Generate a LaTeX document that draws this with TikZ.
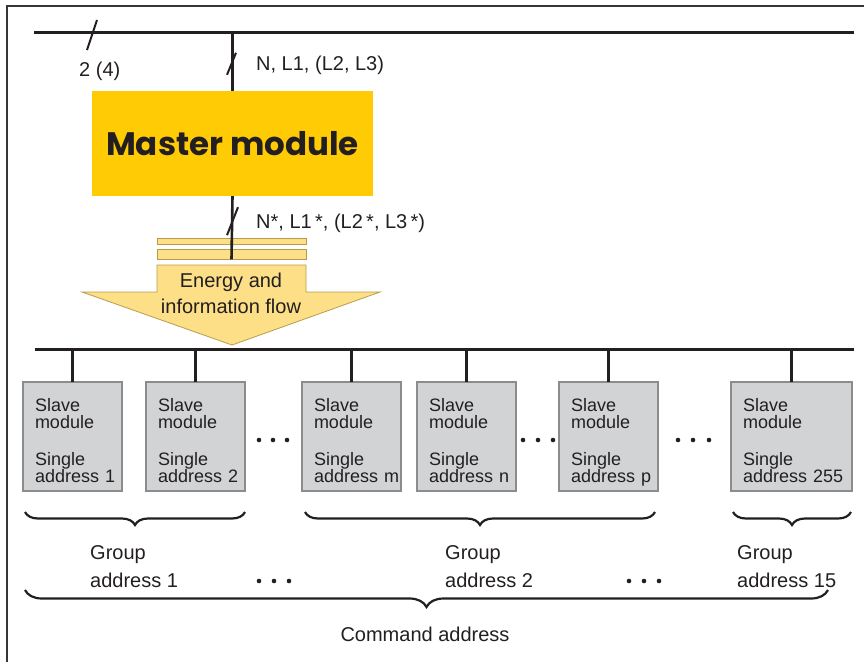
\documentclass[tikz,border=0pt]{standalone}
\usepackage{fontspec}
\setmainfont{Liberation Sans}
\newfontfamily\msHeavy{Poppins}
\usepackage{tikz}
\usetikzlibrary{
    positioning,
    calc,
    decorations.pathreplacing
}
\definecolor{msYellow}{HTML}{FFCB05}
\definecolor{msLightYellow}{HTML}{FCDF86}
\definecolor{msFlowLine}{HTML}{B89C4C}
\definecolor{msGray}{HTML}{D1D3D4}
\definecolor{msGrayLine}{HTML}{8C8C8C}
\definecolor{msInk}{HTML}{231F20}
\tikzset{
    msBus/.style={line width=3pt,draw=msInk},
    msDrop/.style={line width=2.6pt,draw=msInk},
    msSlash/.style={line width=2pt,draw=msInk},
    msFrame/.style={line width=1.5pt,draw=msInk!90},
    msMaster/.style={
        fill=msYellow,
        minimum width=281pt,
        minimum height=105pt,
        inner sep=0pt,
        text=msInk,
        font=\msHeavy\bfseries\fontsize{32.5}{36}\selectfont
    },
    msBar/.style={
        draw=msFlowLine,
        fill=msLightYellow,
        line width=0.8pt,
        minimum width=149pt,
        inner sep=0pt
    },
    msFlow/.style={draw=msFlowLine,fill=msLightYellow,line width=0.8pt},
    msSlave/.style={
        draw=msGrayLine,
        fill=msGray,
        line width=2pt,
        minimum height=109pt,
        text width=75pt,
        inner xsep=12pt,
        inner ysep=0pt,
        outer sep=0pt,
        align=left,
        text=msInk,
        font=\fontsize{18}{17}\selectfont,
        execute at begin node={\rule{0pt}{27pt}},
        execute at end node={\rule[-6pt]{0pt}{6pt}}
    },
    msLabel/.style={inner sep=0pt,text=msInk,font=\fontsize{20}{28}\selectfont},
    msBrace/.style={decorate,decoration={brace,amplitude=#1},line width=2.2pt,draw=msInk}
}

\begin{document}
\begin{tikzpicture}[x=1pt,y=-1pt]
    \useasboundingbox (0,0) rectangle (864,662);
    \draw[msFrame] (864,6) -- (7,6) -- (7,662);

    % master side
    \coordinate (busTopL) at (34,32);
    \coordinate (busTopR) at (854,32);
    \draw[msBus] (busTopL) -- (busTopR);
    \draw[msSlash] (87,50) -- (97,20);
    \node[msLabel,anchor=base west] (wires) at (79,76) {2 (4)};

    \node[msMaster] (master) at (232.5,143.5) {Master module};
    \draw[msDrop] (master.north) -- (master.north |- busTopL);
    \draw[msSlash] ($(master.north)+(-5.5,-16)$) -- ($(master.north)+(3.5,-38)$);
    \node[msLabel,anchor=base west] (inLines) at (256,70) {N, L1, (L2, L3)};

    % energy and information flow
    \node[msBar,minimum height=6pt] (bar1) at (231.5,241.5) {};
    \node[msBar,minimum height=10pt] (bar2) at (231.5,254) {};
    \draw[msDrop] (master.south) -- (bar2.south);
    \draw[msSlash] ($(master.south)+(-5.5,39)$) -- ($(master.south)+(5.5,11)$);
    \node[msLabel,anchor=base west] (outLines) at (256,228)
        {N*, L1\,*, (L2\,*, L3\,*)};

    \draw[msFlow] (157,265) -- (306,265) -- (306,292) -- (380,292)
        -- (232,345) -- (82,292) -- (157,292) -- cycle;
    \node[msLabel,align=center,font=\fontsize{20}{26}\selectfont] (flow) at (231,293)
        {Energy and\\information flow};

    % slave modules
    \coordinate (busLowL) at (35,349);
    \coordinate (busLowR) at (854,349);
    \draw[msBus] (busLowL) -- (busLowR);

    \node[msSlave,anchor=north west] (s1) at (23,382)
        {Slave\\module\\[20pt]Single\\address~1};
    \node[msSlave,right=24pt of s1] (s2)
        {Slave\\module\\[20pt]Single\\address~2};
    \node[msSlave,right=57pt of s2] (s3)
        {Slave\\module\\[20pt]Single\\address~m};
    \node[msSlave,right=16pt of s3] (s4)
        {Slave\\module\\[20pt]Single\\address~n};
    \node[msSlave,right=43pt of s4] (s5)
        {Slave\\module\\[20pt]Single\\address~p};
    \node[msSlave,text width=97pt,right=73pt of s5] (s6)
        {Slave\\module\\[20pt]Single\\address~255};

    \foreach \s in {s1,s2,s3,s4,s5,s6}
        \draw[msDrop] (\s.north) -- (\s.north |- busLowL);

    \foreach \x in {259,273,287,523,538,553,678,693,709}
        \fill[msInk] (\x,440) circle (2.3pt);

    % addresses
    \draw[msBrace=13pt] (245,512) -- (25,512);
    \draw[msBrace=13pt] (655,512) -- (305,512);
    \draw[msBrace=13pt] (851,512) -- (733,512);

    \node[msLabel,align=left,anchor=north west] (g1) at (90,545) {Group\\address 1};
    \node[msLabel,align=left,anchor=north west] (g2) at (445,545) {Group\\address 2};
    \node[msLabel,align=left,anchor=north west] (g15) at (737,545) {Group\\address 15};

    \foreach \x in {259,274,289,629,644,659}
        \fill[msInk] (\x,581) circle (2.3pt);

    \draw[msBrace=17pt] (828,590) -- (25,590);
    \node[msLabel] (cmd) at (425,634) {Command address};
\end{tikzpicture}
\end{document}
